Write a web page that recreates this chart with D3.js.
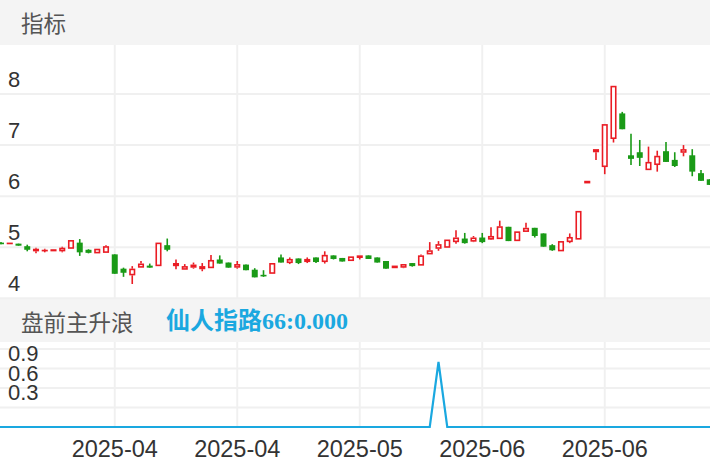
<!DOCTYPE html>
<html><head><meta charset="utf-8">
<script src="https://cdn.jsdelivr.net/npm/d3@7"></script>
<style>html,body{margin:0;padding:0;background:#fff;overflow:hidden}</style>
</head><body>
<svg id="c" width="710" height="472"></svg>
<script>
// ---- data ----
const openP  = [5.09,5.07,5.07,5.02,4.92,4.93,4.92,4.92,4.97,5.09,4.95,4.88,4.89,4.86,4.58,4.45,4.60,4.64,4.63,5.04,
                4.63,4.56,4.60,4.57,4.59,4.76,4.70,4.60,4.66,4.56,4.46,4.48,4.80,4.69,4.78,4.71,4.80,4.71,4.84,4.79,
                4.73,4.79,4.84,4.80,4.73,4.59,4.60,4.69,4.64,4.86,4.97,4.99,5.10,5.17,5.11,5.19,5.15,5.16,5.40,5.12,
                5.30,5.38,5.27,5.04,4.92,5.10,5.15,6.25,6.86,6.57,7.12,7.62,6.80,6.86,6.51,6.61,6.88,6.71,6.85,6.80,
                6.45,6.33];
const highP  = [5.10,5.09,5.07,5.05,4.99,4.97,4.96,5.01,5.14,5.16,4.96,4.97,5.04,4.86,4.60,4.63,4.73,4.68,5.09,5.17,
                4.76,4.67,4.70,4.69,4.85,4.84,4.70,4.73,4.66,4.59,4.55,4.69,4.86,4.80,4.78,4.80,4.80,4.92,4.84,4.79,
                4.82,4.84,4.84,4.80,4.73,4.64,4.67,4.69,4.86,5.10,5.12,5.15,5.33,5.28,5.22,5.28,5.39,5.52,5.40,5.31,
                5.48,5.38,5.27,5.06,5.12,5.27,5.71,6.30,6.92,7.41,8.16,7.65,7.22,7.10,6.97,6.89,7.06,6.86,7.00,6.92,
                6.51,6.33];
const lowP   = [5.06,5.07,5.03,4.92,4.88,4.90,4.92,4.90,4.97,4.83,4.88,4.88,4.89,4.48,4.42,4.28,4.60,4.60,4.63,4.92,
                4.57,4.56,4.58,4.53,4.59,4.68,4.60,4.58,4.55,4.41,4.42,4.48,4.70,4.67,4.67,4.69,4.69,4.68,4.76,4.72,
                4.73,4.76,4.77,4.70,4.58,4.59,4.59,4.62,4.64,4.86,4.93,4.99,5.07,5.07,5.10,5.08,5.14,5.16,5.12,5.12,
                5.30,5.19,5.01,4.93,4.92,5.08,5.15,6.25,6.71,6.43,7.05,7.31,6.61,6.59,6.51,6.48,6.67,6.57,6.78,6.39,
                6.30,6.22];
const closeP = [5.06,5.09,5.03,4.95,4.97,4.95,4.96,4.99,5.14,4.90,4.89,4.97,5.02,4.48,4.50,4.58,4.68,4.60,5.09,4.95,
                4.69,4.63,4.66,4.63,4.75,4.68,4.60,4.67,4.55,4.41,4.43,4.69,4.70,4.77,4.69,4.77,4.71,4.85,4.77,4.72,
                4.82,4.84,4.77,4.70,4.58,4.64,4.67,4.63,4.84,4.94,5.06,5.15,5.19,5.08,5.19,5.10,5.22,5.41,5.12,5.31,
                5.38,5.22,5.01,4.94,5.12,5.20,5.71,6.30,6.92,7.41,8.16,7.31,6.73,6.75,6.67,6.79,6.67,6.59,6.92,6.48,
                6.30,6.22];
const signal = [0,0,0,0,0,0,0,0,0,0,0,0,0,0,0,0,0,0,0,0,
                0,0,0,0,0,0,0,0,0,0,0,0,0,0,0,0,0,0,0,0,
                0,0,0,0,0,0,0,0,0,0,1,0,0,0,0,0,0,0,0,0,
                0,0,0,0,0,0,0,0,0,0,0,0,0,0,0,0,0,0,0,0,
                0,0];
const priceTicks = [4,5,6,7,8];
const signalTicks = [0.3,0.6,0.9];
const signalGrid = [0.3,0.6,0.9,1.2];
const xTickIndex = [13,27,41,55,69];
const xTickLabels = ["2025-04","2025-04","2025-05","2025-06","2025-06"];
const panelTitle = "指标";
const subTitle = "盘前主升浪";
const subValue = "仙人指路66:0.000";

// ---- setup ----
const W = 710, H = 472;
const RED = "#ea1c24", GREEN = "#1a9a17", GRID = "#f0f0f0", BLUE = "#1aa8e0";
const svg = d3.select("#c");
const data = openP.map((o,i)=>({i, o, h:highP[i], l:lowP[i], c:closeP[i], s:signal[i]}));

const x = d3.scaleLinear().domain([0, data.length-1]).range([1, 709.75]);
const y = d3.scaleLinear().domain([4, 8]).range([298.3, 94]);
const ys = d3.scaleLinear().domain([0, 1.2]).range([427, 349]);

const axisFont = "'Liberation Sans', Arial, Helvetica, sans-serif";
const cjkFont = "'Noto Sans CJK SC', 'Noto Sans', sans-serif";

// header bands
svg.append("rect").attr("x",0).attr("y",0).attr("width",W).attr("height",45).attr("fill","#f4f4f4");
svg.append("rect").attr("x",0).attr("y",298).attr("width",W).attr("height",44).attr("fill","#f4f4f4");

svg.append("text").attr("x",21).attr("y",22).attr("dominant-baseline","central")
  .attr("font-family",cjkFont).attr("font-size",22.5).attr("fill","#555").text(panelTitle);
svg.append("text").attr("x",21).attr("y",321).attr("dominant-baseline","central")
  .attr("font-family",cjkFont).attr("font-size",22.5).attr("fill","#555").text(subTitle);
svg.append("text").attr("x",166).attr("y",321).attr("dominant-baseline","central")
  .attr("font-family","'Liberation Serif', 'Noto Sans CJK SC', serif").attr("font-weight","bold")
  .attr("font-size",24).attr("fill",BLUE).text(subValue);

// main grid
const gMain = svg.append("g");
gMain.selectAll("line.h").data(priceTicks).join("line")
  .attr("x1",0).attr("x2",W).attr("y1",d=>y(d)).attr("y2",d=>y(d))
  .attr("stroke",GRID).attr("stroke-width",2);
gMain.selectAll("line.v").data(xTickIndex).join("line").attr("class","v")
  .attr("x1",d=>x(d)).attr("x2",d=>x(d)).attr("y1",45).attr("y2",298)
  .attr("stroke",GRID).attr("stroke-width",2);
gMain.selectAll("text.yl").data(priceTicks).join("text").attr("class","yl")
  .attr("x",8).attr("y",d=>y(d)-7).attr("font-family",axisFont).attr("font-size",22)
  .attr("fill","#333").text(d=>d);

// candles
svg.append("clipPath").attr("id","clipMain").append("rect")
  .attr("x",0).attr("y",45).attr("width",W).attr("height",253);
const gC = svg.append("g").attr("clip-path","url(#clipMain)");
const bw = 6;
data.forEach(d=>{
  const cx = x(d.i);
  const up = d.c >= d.o;
  const top = y(Math.max(d.o,d.c)), bot = y(Math.min(d.o,d.c));
  const col = up ? RED : GREEN;
  if (up) {
    gC.append("line").attr("x1",cx).attr("x2",cx).attr("y1",y(d.h)).attr("y2",top)
      .attr("stroke",col).attr("stroke-width",1.6);
    gC.append("line").attr("x1",cx).attr("x2",cx).attr("y1",bot).attr("y2",y(d.l))
      .attr("stroke",col).attr("stroke-width",1.6);
    const hgt = Math.max(bot-top, 0.5);
    gC.append("rect").attr("x",cx-bw/2+0.75).attr("y",top+0.75)
      .attr("width",bw-1.5).attr("height",Math.max(hgt-1.5,0.1))
      .attr("fill", hgt < 3 ? col : "#fff").attr("stroke",col).attr("stroke-width",1.6);
  } else {
    gC.append("line").attr("x1",cx).attr("x2",cx).attr("y1",y(d.h)).attr("y2",y(d.l))
      .attr("stroke",col).attr("stroke-width",1.6);
    gC.append("rect").attr("x",cx-bw/2).attr("y",top)
      .attr("width",bw).attr("height",Math.max(bot-top,1.6)).attr("fill",col);
  }
});

// lower panel grid
const gLow = svg.append("g");
gLow.selectAll("line.h").data(signalGrid).join("line")
  .attr("x1",0).attr("x2",W).attr("y1",d=>ys(d)).attr("y2",d=>ys(d))
  .attr("stroke",GRID).attr("stroke-width",2);
gLow.selectAll("line.v").data(xTickIndex).join("line").attr("class","v")
  .attr("x1",d=>x(d)).attr("x2",d=>x(d)).attr("y1",342).attr("y2",427)
  .attr("stroke",GRID).attr("stroke-width",2);
gLow.selectAll("text.yl").data(signalTicks).join("text").attr("class","yl")
  .attr("x",8).attr("y",d=>ys(d)-7.5).attr("font-family",axisFont).attr("font-size",22)
  .attr("fill","#333").text(d=>d.toFixed(1));

// signal line
const line = d3.line().x(d=>x(d.i)).y(d=>ys(d.s));
svg.append("path").datum([{i:-1,s:0}, ...data, {i:data.length,s:0}]).attr("d",line)
  .attr("fill","none").attr("stroke",BLUE).attr("stroke-width",2.2);

// x-axis labels
svg.selectAll("text.xl").data(xTickIndex).join("text").attr("class","xl")
  .attr("x",d=>x(d)).attr("y",457).attr("text-anchor","middle")
  .attr("font-family",axisFont).attr("font-size",23.5).attr("fill","#333")
  .text((d,k)=>xTickLabels[k]);
</script>
</body></html>
